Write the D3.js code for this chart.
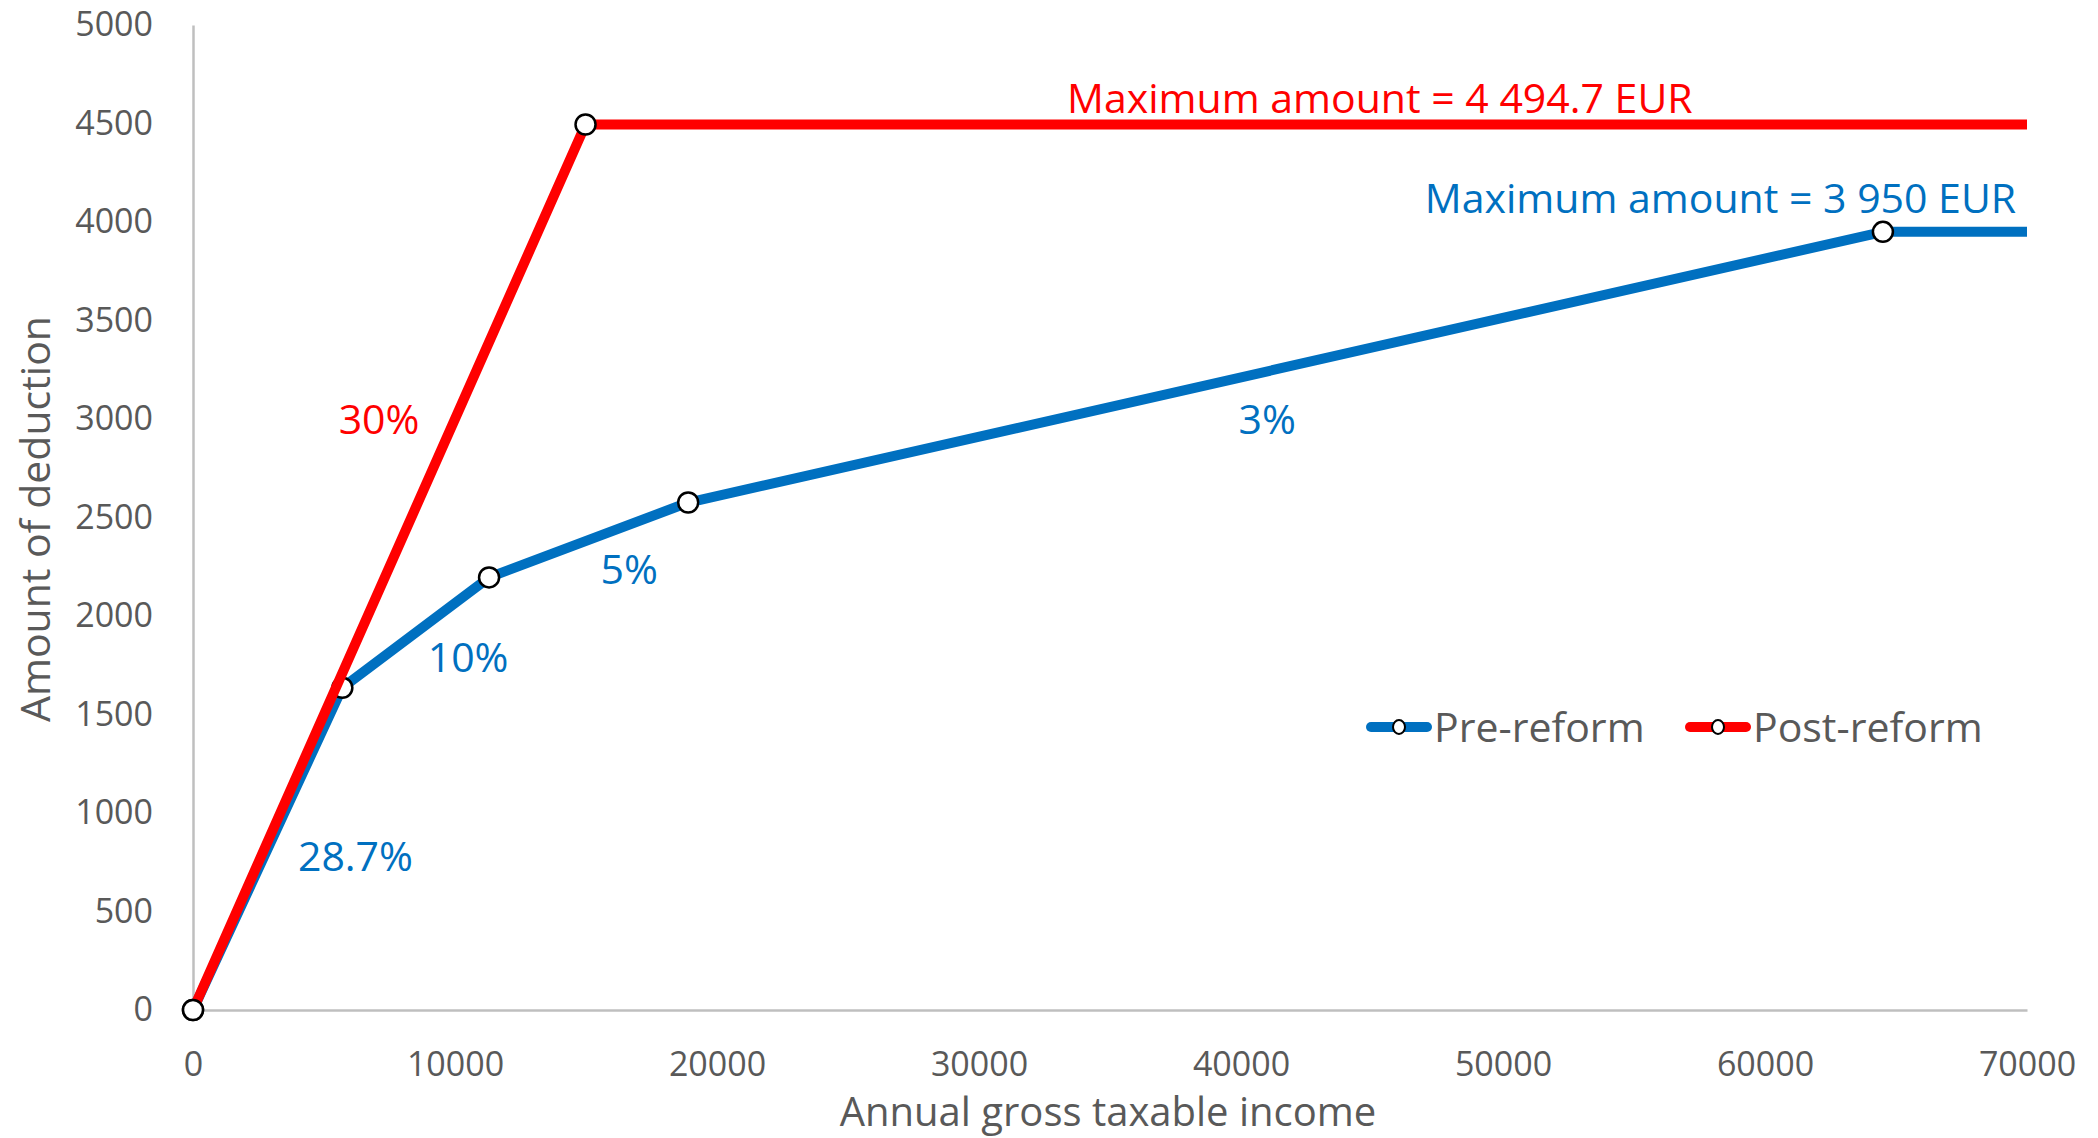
<!DOCTYPE html>
<html>
<head>
<meta charset="utf-8">
<script src="https://cdn.jsdelivr.net/npm/d3@7"></script>
<style>
  html, body { margin: 0; padding: 0; background: #ffffff; }
  svg { display: block; font-family: "Open Sans", "Noto Sans", sans-serif; }
</style>
</head>
<body>
<svg id="chart" width="2098" height="1138"></svg>
<script>
// Deduction schedule: income breakpoints (EUR) and deduction amounts (EUR)
const preIncome  = [0, 5700, 11300, 18900, 64500, 70000];
const preAmount  = [0, 1636, 2196, 2576, 3950, 3950];
const preMarkers = [0, 1, 2, 3, 4];           // breakpoints that carry a marker

const postIncome  = [0, 14982, 70000];
const postAmount  = [0, 4494.7, 4494.7];
const postMarkers = [0, 1];

const seriesNames  = ["Pre-reform", "Post-reform"];
const xTicks = [0, 10000, 20000, 30000, 40000, 50000, 60000, 70000];
const yTicks = [0, 500, 1000, 1500, 2000, 2500, 3000, 3500, 4000, 4500, 5000];

// Rate annotations placed at [income, amount] positions
const rateLabels  = ["28.7%", "10%", "5%", "3%", "30%"];
const rateX       = [6200, 10500, 16650, 41000, 7100];
const rateY       = [780, 1790, 2236, 3000, 3000];
const rateSeries  = [0, 0, 0, 0, 1];

const maxLabels = ["Maximum amount = 3 950 EUR", "Maximum amount = 4 494.7 EUR"];
const maxX      = [58300, 45300];
const maxY      = [4120, 4627];

const BLUE = "#0070C0", RED = "#FF0000", GREY_TEXT = "#595959", GREY_AXIS = "#BFBFBF";
const colors = [BLUE, RED];

const svg = d3.select("#chart");
const x = d3.scaleLinear().domain([0, 70000]).range([193, 2027]);
const y = d3.scaleLinear().domain([0, 5000]).range([1010, 25]);

// Axes
const xAxis = svg.append("g")
  .attr("transform", `translate(0,${y(0)})`)
  .call(d3.axisBottom(x).tickValues(xTicks).tickFormat(d3.format("d"))
        .tickSize(0).tickSizeOuter(0).tickPadding(42));
const yAxis = svg.append("g")
  .attr("transform", `translate(${x(0)},0)`)
  .call(d3.axisLeft(y).tickValues(yTicks).tickFormat(d3.format("d"))
        .tickSize(0).tickSizeOuter(0).tickPadding(40));
[xAxis, yAxis].forEach(g => {
  g.select(".domain").attr("stroke", GREY_AXIS).attr("stroke-width", 2.5);
  g.selectAll("text").attr("fill", GREY_TEXT).attr("font-size", 34)
    .attr("font-family", "'Open Sans', sans-serif");
});

// Axis titles
svg.append("text")
  .attr("x", 1108).attr("y", 1126)
  .attr("text-anchor", "middle").attr("fill", GREY_TEXT).attr("font-size", 40)
  .text("Annual gross taxable income");
svg.append("text")
  .attr("transform", `translate(50,${519}) rotate(-90)`)
  .attr("text-anchor", "middle").attr("fill", GREY_TEXT).attr("font-size", 41)
  .text("Amount of deduction");

const line = d3.line().x(d => x(d[0])).y(d => y(d[1]));
const series = [
  { pts: preIncome.map((v, i) => [v, preAmount[i]]), markers: preMarkers },
  { pts: postIncome.map((v, i) => [v, postAmount[i]]), markers: postMarkers }
];

// Lines and breakpoint markers, post-reform drawn on top
series.forEach((s, k) => {
  svg.append("path")
    .attr("d", line(s.pts))
    .attr("fill", "none").attr("stroke", colors[k]).attr("stroke-width", 10)
    .attr("stroke-linejoin", "round").attr("stroke-linecap", "butt");
  svg.append("g").selectAll("circle")
    .data(s.markers.map(i => s.pts[i]))
    .join("circle")
    .attr("cx", d => x(d[0])).attr("cy", d => y(d[1])).attr("r", 10)
    .attr("fill", "#ffffff").attr("stroke", "#000000").attr("stroke-width", 2.5);
});

// Rate annotations
svg.append("g").selectAll("text")
  .data(rateLabels)
  .join("text")
  .attr("x", (d, i) => x(rateX[i])).attr("y", (d, i) => y(rateY[i]))
  .attr("dy", "0.36em")
  .attr("text-anchor", "middle").attr("font-size", 41)
  .attr("fill", (d, i) => colors[rateSeries[i]])
  .text(d => d);

// Maximum amount annotations
svg.append("g").selectAll("text")
  .data(maxLabels)
  .join("text")
  .attr("x", (d, i) => x(maxX[i])).attr("y", (d, i) => y(maxY[i]))
  .attr("dy", "0.36em")
  .attr("text-anchor", "middle").attr("font-size", 41)
  .attr("fill", (d, i) => colors[i])
  .text(d => d);

// Legend
const legendX = [1366, 1685];
const legendY = 727;
const legend = svg.append("g").selectAll("g")
  .data(seriesNames)
  .join("g")
  .attr("transform", (d, i) => `translate(${legendX[i]},${legendY})`);
legend.append("line")
  .attr("x1", 5).attr("x2", 61).attr("y1", 0).attr("y2", 0)
  .attr("stroke", (d, i) => colors[i]).attr("stroke-width", 10)
  .attr("stroke-linecap", "round");
legend.append("ellipse")
  .attr("cx", 33).attr("cy", 0).attr("rx", 6).attr("ry", 7)
  .attr("fill", "#ffffff").attr("stroke", "#000000").attr("stroke-width", 2);
legend.append("text")
  .attr("x", 68).attr("y", 0).attr("dy", "0.36em")
  .attr("font-size", 41).attr("fill", GREY_TEXT)
  .text(d => d);
</script>
</body>
</html>
